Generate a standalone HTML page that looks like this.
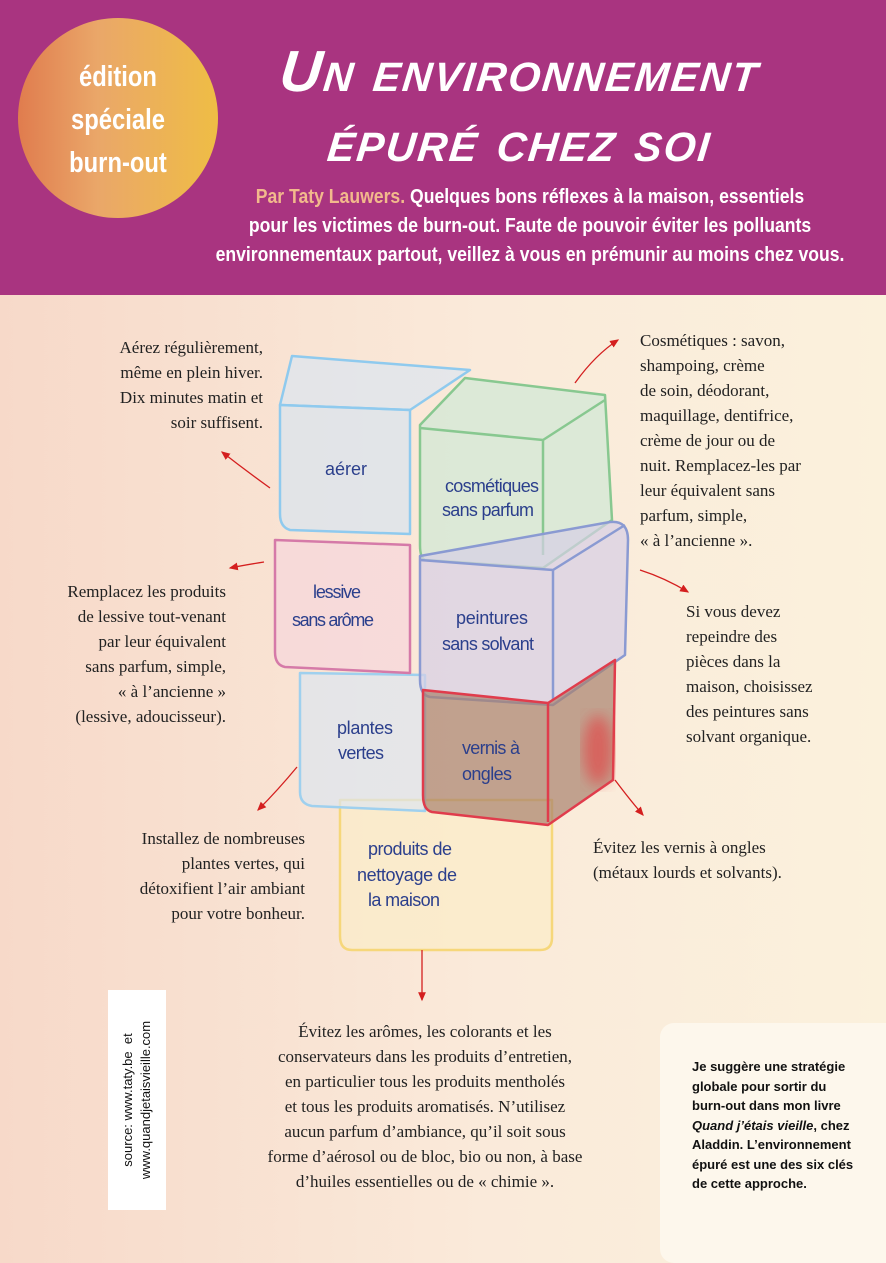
<!DOCTYPE html>
<html><head><meta charset="utf-8"><style>
body{margin:0;width:886px;height:1253px;overflow:hidden;position:relative;background:linear-gradient(90deg,#f7d9c9 0%,#faeada 55%,#fbf1dc 100%);font-family:"Liberation Serif",serif;}
.hdr{position:absolute;left:0;top:0;width:886px;height:295px;background:#a93480;}
.circ{position:absolute;left:18px;top:18px;width:200px;height:200px;border-radius:50%;background:linear-gradient(90deg,#e07c4e,#eaa769 40%,#efbd45);}
.circ div{position:absolute;width:200px;top:38px;text-align:center;color:#fff;font:bold 29px/43px "Liberation Sans",sans-serif;transform:scaleX(0.82);}
.title{position:absolute;left:200px;width:640px;text-align:center;color:#fff;font:italic bold 58px "Liberation Sans",sans-serif;font-variant:small-caps;letter-spacing:2px;transform:skewX(-6deg) scaleX(1.0);}
.sub{position:absolute;left:130px;width:800px;top:183px;text-align:center;color:#fff;font:bold 20px/29px "Liberation Sans",sans-serif;transform:scaleX(0.88);transform-origin:400px 0;}
.t{position:absolute;font-size:17px;line-height:25px;color:#222;}
.r{text-align:right}
.box{position:absolute;left:660px;top:1023px;width:240px;height:240px;background:#fdf7ec;border-radius:14px;}
.box div{position:absolute;left:32px;top:34px;font:bold 13px/19.5px "Liberation Sans",sans-serif;color:#111;}
.src{position:absolute;left:108px;top:990px;width:58px;height:220px;background:#fff;}
.src div{position:absolute;left:-81px;top:92px;width:220px;transform:rotate(-90deg);font:13px/18px "Liberation Sans",sans-serif;color:#111;text-align:center;}
svg{position:absolute;left:0;top:0}
.lab{font-family:"Liberation Sans",sans-serif;font-size:18px;fill:#2b3f8c;}
</style></head><body>
<div class="hdr"></div>
<div class="circ"><div>édition<br>spéciale<br>burn-out</div></div>
<div class="title" style="top:38px">Un environnement</div>
<div class="title" style="top:108px">épuré chez soi</div>
<div class="sub"><span style="color:#f2b98c">Par Taty Lauwers.</span> Quelques bons réflexes à la maison, essentiels<br>pour les victimes de burn-out. Faute de pouvoir éviter les polluants<br>environnementaux partout, veillez à vous en prémunir au moins chez vous.</div>

<svg width="886" height="1253">
<defs><marker id="a" markerWidth="8" markerHeight="8" refX="6" refY="4" orient="auto"><path d="M0,1 L7,4 L0,7 Z" fill="#d41f1f"/></marker>
<filter id="b"><feGaussianBlur stdDeviation="7"/></filter></defs>
<g stroke-width="2.5" fill-opacity="0.7" stroke-linejoin="round">
<path d="M340,800 L552,800 L552,938 Q552,950 540,950 L352,950 Q340,950 340,936 Z" fill="#fbedc8" stroke="#f6d77a"/>
<path d="M300,673 L425,675 L425,811 L312,806 Q300,804 300,792 Z" fill="#dde6ef" stroke="#9fd0ee"/>
<path d="M275,540 L410,545 L410,673 L285,667 Q275,665 275,652 Z" fill="#f6d6dc" stroke="#d57aa8"/>
<path d="M292,356 L470,370 L410,410 L280,405 Z" fill="#dbe6f1" stroke="#8fcaee"/>
<path d="M280,405 L410,410 L410,534 L290,530 Q280,527 280,514 Z" fill="#d9e4ef" stroke="#8fcaee"/>
<path d="M465,378 L605,395 L612,520 L543,568 L425,560 Q420,558 420,545 L420,425 Z" fill="#cfe8d6" stroke="#88c890"/>
<path d="M420,428 L543,440 L605,400 M543,440 L543,555" fill="none" stroke="#88c890"/>
<path d="M420,556 L610,522 Q628,520 628,540 L625,655 L553,705 L430,697 Q420,695 420,680 Z" fill="#d6cfe6" stroke="#8a9ad2"/>
<path d="M420,560 L553,570 L625,525 M553,570 L553,700" fill="none" stroke="#8a9ad2"/>
<path d="M423,690 L548,703 L615,660 L613,780 L548,825 L432,812 Q423,810 423,795 Z" fill="#a8826e" stroke="#e03c4c"/>
<path d="M548,703 L548,822" fill="none" stroke="#e03c4c"/>
<ellipse cx="598" cy="750" rx="15" ry="35" fill="#e04848" filter="url(#b)" stroke="none"/>
</g>
<text class="lab" x="325" y="475" textLength="42">aérer</text>
<text class="lab" x="445" y="492" textLength="94">cosmétiques</text>
<text class="lab" x="442" y="516" textLength="92">sans parfum</text>
<text class="lab" x="313" y="598" textLength="48">lessive</text>
<text class="lab" x="292" y="626" textLength="82">sans arôme</text>
<text class="lab" x="456" y="624" textLength="72">peintures</text>
<text class="lab" x="442" y="650" textLength="92">sans solvant</text>
<text class="lab" x="337" y="734" textLength="56">plantes</text>
<text class="lab" x="338" y="759" textLength="46">vertes</text>
<text class="lab" x="462" y="754" textLength="58">vernis à</text>
<text class="lab" x="462" y="780" textLength="50">ongles</text>
<text class="lab" x="368" y="855" textLength="84">produits de</text>
<text class="lab" x="357" y="881" textLength="100">nettoyage de</text>
<text class="lab" x="368" y="906" textLength="72">la maison</text>
<g stroke="#d41f1f" stroke-width="1.3" fill="none" marker-end="url(#a)">
<path d="M270,488 Q245,470 222,452"/>
<path d="M575,383 Q595,355 618,340"/>
<path d="M264,562 Q245,565 230,568"/>
<path d="M640,570 Q665,578 688,592"/>
<path d="M297,767 Q278,790 258,810"/>
<path d="M615,780 Q630,800 643,815"/>
<path d="M422,950 L422,1000"/>
</g>
</svg>

<div class="t r" style="right:623px;top:335px">Aérez régulièrement,<br>même en plein hiver.<br>Dix minutes matin et<br>soir suffisent.</div>
<div class="t" style="left:640px;top:328px">Cosmétiques : savon,<br>shampoing, crème<br>de soin, déodorant,<br>maquillage, dentifrice,<br>crème de jour ou de<br>nuit. Remplacez-les par<br>leur équivalent sans<br>parfum, simple,<br>« à l’ancienne ».</div>
<div class="t r" style="right:660px;top:579px">Remplacez les produits<br>de lessive tout-venant<br>par leur équivalent<br>sans parfum, simple,<br>« à l’ancienne »<br>(lessive, adoucisseur).</div>
<div class="t" style="left:686px;top:599px">Si vous devez<br>repeindre des<br>pièces dans la<br>maison, choisissez<br>des peintures sans<br>solvant organique.</div>
<div class="t r" style="right:581px;top:826px">Installez de nombreuses<br>plantes vertes, qui<br>détoxifient l’air ambiant<br>pour votre bonheur.</div>
<div class="t" style="left:593px;top:835px">Évitez les vernis à ongles<br>(métaux lourds et solvants).</div>
<div class="t" style="left:225px;width:400px;text-align:center;top:1019px">Évitez les arômes, les colorants et les<br>conservateurs dans les produits d’entretien,<br>en particulier tous les produits mentholés<br>et tous les produits aromatisés. N’utilisez<br>aucun parfum d’ambiance, qu’il soit sous<br>forme d’aérosol ou de bloc, bio ou non, à base<br>d’huiles essentielles ou de « chimie ».</div>
<div class="src"><div>source: www.taty.be &nbsp;et<br>www.quandjetaisvieille.com</div></div>
<div class="box"><div>Je suggère une stratégie<br>globale pour sortir du<br>burn-out dans mon livre<br><i>Quand j’étais vieille</i>, chez<br>Aladdin. L’environnement<br>épuré est une des six clés<br>de cette approche.</div></div>
</body></html>
